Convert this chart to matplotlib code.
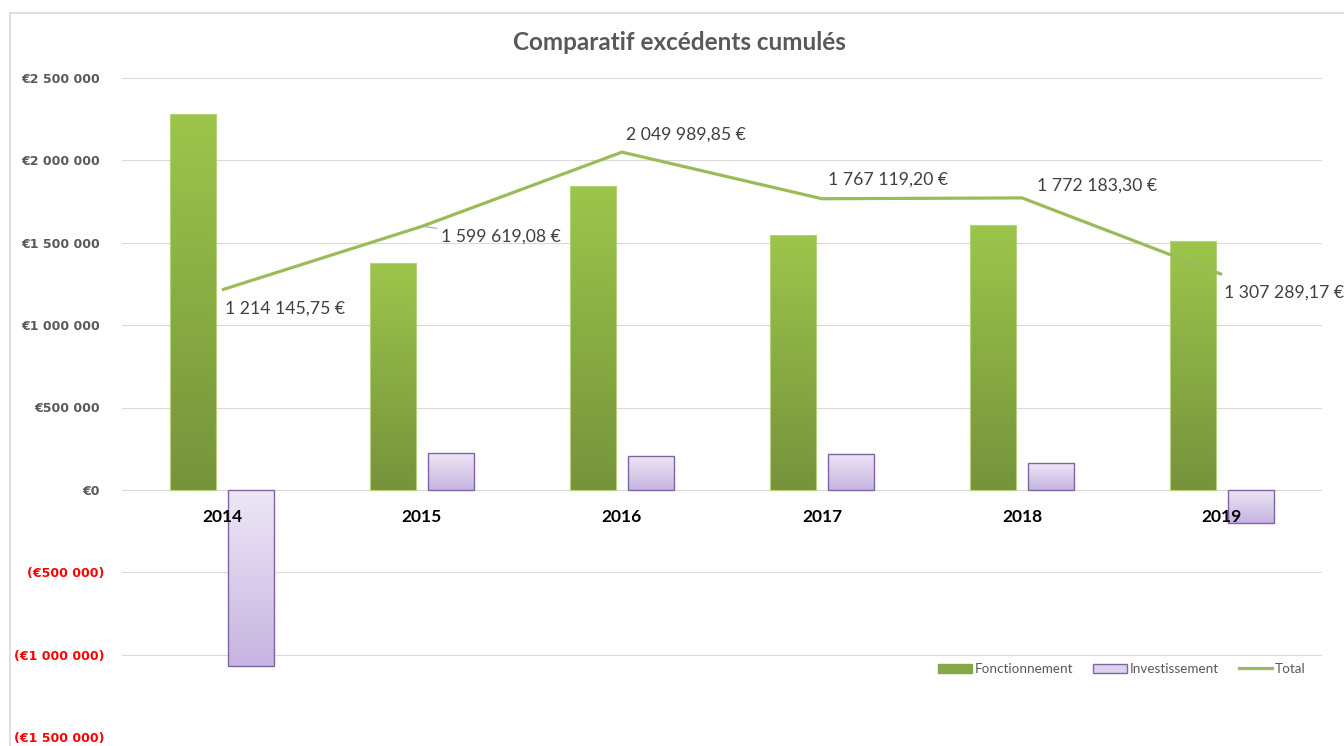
import numpy as np
import matplotlib
matplotlib.use("Agg")
import matplotlib.pyplot as plt
from matplotlib.patches import Patch
from matplotlib.lines import Line2D
from matplotlib.colors import LinearSegmentedColormap

# Data
YEARS = ["2014", "2015", "2016", "2017", "2018", "2019"]
FONCTIONNEMENT = [2282000, 1375000, 1845000, 1548000, 1610000, 1511000]
INVESTISSEMENT = [-1068000, 224000, 205000, 219000, 162000, -204000]
TOTAL = [1214145.75, 1599619.08, 2049989.85, 1767119.20, 1772183.30, 1307289.17]
Y_TICKS = [-1500000, -1000000, -500000, 0, 500000, 1000000, 1500000, 2000000, 2500000]

# label offsets (pixels) for the Total data labels
LABEL_OFFSETS = [(3, -19), (19, -10), (4, 18), (6, 19), (15, 12), (2, -18)]

GREEN_LINE = "#9bbb59"
TEXT_GREY = "#595959"
GRID = "#d9d9d9"


def fmt_axis(v):
    s = f"{abs(v):,.0f}".replace(",", " ")
    # positive values keep room for the closing bracket, like Excel's _) format
    return f"(€{s})" if v < 0 else f"€{s} "


def fmt_label(v):
    s = f"{v:,.2f}".replace(",", " ").replace(".", ",")
    return f"{s} €"


def gradient_fill(ax, bars, top_col, bot_col):
    cmap = LinearSegmentedColormap.from_list("g", [bot_col, top_col])
    grad = np.linspace(0, 1, 256).reshape(-1, 1)
    for b in bars:
        x0, y0 = b.get_x(), b.get_y()
        w, h = b.get_width(), b.get_height()
        lo, hi = min(y0, y0 + h), max(y0, y0 + h)
        im = ax.imshow(grad, cmap=cmap, origin="lower", aspect="auto",
                       extent=[x0, x0 + w, lo, hi], zorder=2)
        im.set_clip_path(b)


fig = plt.figure(figsize=(13.44, 7.46), dpi=100)
ax = fig.add_axes([122 / 1344, 9 / 746, 1200 / 1344, 659 / 746])

x = np.arange(len(YEARS))
width = 0.23
off = 0.143

b1 = ax.bar(x - off, FONCTIONNEMENT, width, facecolor="#8aae45",
            edgecolor="#b3d37a", linewidth=0.8, zorder=2)
b2 = ax.bar(x + off, INVESTISSEMENT, width, facecolor="#ddd2ee",
            edgecolor="#8064a2", linewidth=1.0, zorder=2)
gradient_fill(ax, b1, "#9dc54b", "#76933c")
gradient_fill(ax, b2, "#ede7f6", "#c6b4e1")
# redraw edges on top of gradients
for b in list(b1) + list(b2):
    b.set_zorder(3)
    b.set_facecolor("none")

ax.plot(x, TOTAL, color=GREEN_LINE, linewidth=2.3, zorder=4, solid_capstyle="butt")

for i, (v, (dx, dy)) in enumerate(zip(TOTAL, LABEL_OFFSETS)):
    kw = {}
    if i == 1:
        kw["arrowprops"] = dict(arrowstyle="-", color="#a6a6a6", lw=0.8,
                                shrinkA=1, shrinkB=2)
    ax.annotate(fmt_label(v), (x[i], v), xytext=(dx / 1.389, dy / 1.389),
                textcoords="offset points", ha="left", va="center",
                fontsize=12.7, family="Lato", color="#404040", zorder=5, **kw)

# year labels sit on the zero line
for i, yr in enumerate(YEARS):
    ax.annotate(yr, (x[i], 0), xytext=(0, -27 / 1.389), textcoords="offset points",
                ha="center", va="center", fontsize=12.5, family="Lato",
                fontweight="bold", color="black", zorder=6)

ax.set_xlim(-0.5, len(YEARS) - 0.5)
ax.set_ylim(-1500000, 2500000)
ax.set_xticks([])
ax.set_yticks(Y_TICKS)
ax.set_yticklabels([fmt_axis(v) for v in Y_TICKS])
for t, v in zip(ax.get_yticklabels(), Y_TICKS):
    t.set_color("#ff0000" if v < 0 else TEXT_GREY)
    t.set_fontweight("bold")
    t.set_fontsize(9)
ax.tick_params(axis="y", length=0, pad=12.7)
ax.grid(axis="y", color=GRID, linewidth=0.8, zorder=0)
ax.set_axisbelow(True)
for s in ax.spines.values():
    s.set_visible(False)

fig.text(679 / 1344, 1 - 42 / 746, "Comparatif excédents cumulés", ha="center",
         va="center", fontsize=17.5, family="Lato", fontweight="bold", color=TEXT_GREY)

handles = [
    Patch(facecolor="#86a844", edgecolor="#86a844"),
    Patch(facecolor="#ddd2ee", edgecolor="#8064a2"),
    Line2D([0], [0], color=GREEN_LINE, linewidth=2.3),
]
fig.legend(handles, ["Fonctionnement", "Investissement", "Total"], ncol=3,
           loc="center right", bbox_to_anchor=(1318 / 1344, 1 - 669 / 746),
           frameon=False, prop={"family": "Lato", "size": 9.7},
           labelcolor=TEXT_GREY, handlelength=2.5, handleheight=0.6,
           handletextpad=0.2, columnspacing=1.5)

# chart border (cropped at right and bottom in the reference)
fig.add_artist(Line2D([10 / 1344, 10 / 1344], [0, 1 - 13 / 746],
                      transform=fig.transFigure, color=GRID, linewidth=1.2))
fig.add_artist(Line2D([10 / 1344, 1], [1 - 13 / 746, 1 - 13 / 746],
                      transform=fig.transFigure, color=GRID, linewidth=1.2))

fig.savefig("out.png", dpi=100)
